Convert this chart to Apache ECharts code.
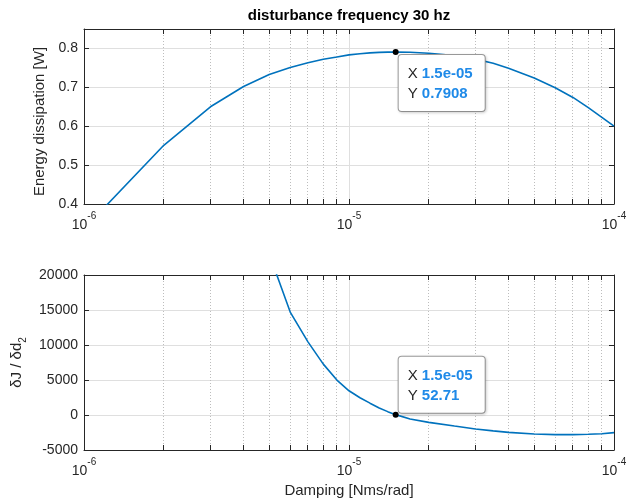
<!DOCTYPE html>
<html><head><meta charset="utf-8">
<script src="https://cdn.jsdelivr.net/npm/echarts@6/dist/echarts.min.js"></script>
<style>html,body{margin:0;padding:0;background:#fff}#c{width:632px;height:504px}</style>
</head><body><div id="c"></div>
<script>
// ---- data ----
const damping = [1e-6,2e-6,3e-6,4e-6,5e-6,6e-6,7e-6,8e-6,9e-6,1e-5,1.1e-5,1.2e-5,1.3e-5,1.4e-5,1.5e-5,1.7e-5,2e-5,2.5e-5,3e-5,3.5e-5,4e-5,5e-5,6e-5,7e-5,8e-5,9e-5,1e-4];
const energy  = [0.336,0.551,0.650,0.702,0.733,0.751,0.763,0.772,0.778,0.7835,0.7865,0.7885,0.7898,0.7905,0.7908,0.7901,0.7877,0.7815,0.7725,0.762,0.749,0.724,0.699,0.674,0.648,0.623,0.600];
const dJdd    = [null,null,null,null,23000,14700,10450,7270,4990,3460,2470,1690,1010,480,52.71,-560,-1050,-1580,-2000,-2270,-2480,-2710,-2810,-2810,-2760,-2670,-2520];
const tipX = 1.5e-5;

// ---- axes / ticks ----
const xDecades = [1e-6, 1e-5, 1e-4];
const energyTicks = [0.4, 0.5, 0.6, 0.7, 0.8];
const energyLimits = [0.4, 0.85];
const dJTicks = [-5000, 0, 5000, 10000, 15000, 20000];

const titleText = 'disturbance frequency 30 hz';
const yNameTop = 'Energy dissipation [W]';
const xNameBottom = 'Damping [Nms/rad]';

const FONT = '"Liberation Sans", Arial, Helvetica, sans-serif';
const AX = '#262626';
const GRID = '#dfdfdf';
const MINOR = '#bdbdbd';
const LINE = '#0072BD';
const TIPBLUE = '#1f8ae8';

const minorX = [];
for (let i = 0; i < xDecades.length - 1; i++) for (let k = 2; k <= 9; k++) minorX.push(k * xDecades[i]);

const tipIdx = damping.indexOf(tipX);
function fmtX(v){ return v.toExponential(1).replace(/e([+-])(\d)$/, 'e$10$2'); }
function fmtY(v){ return String(Number(v.toPrecision(4))); }

const grids = [
  {left: 84, top: 29, width: 530, height: 175},
  {left: 84, top: 275, width: 530, height: 175}
];

function xAxesFor(g, name){
  const base = {
    type: 'log', logBase: 10, gridIndex: g,
    min: xDecades[0], max: xDecades[xDecades.length-1], splitNumber: xDecades.length-1,
    axisLine: {show: true, onZero: false, lineStyle: {color: AX, width: 1}},
    axisTick: {show: true, inside: true, length: 5, lineStyle: {color: AX, width: 1}},
    minorTick: {show: false}, minorSplitLine: {show: false}
  };
  return [
    Object.assign({}, base, {
      position: 'bottom',
      axisLabel: {show: true, margin: 7,
        formatter: v => '{b|10}{s|' + Math.round(Math.log10(v)) + '}',
        rich: {
          b: {fontSize: 14, fontFamily: FONT, color: AX, lineHeight: 21, verticalAlign: 'bottom'},
          s: {fontSize: 10, fontFamily: FONT, color: AX, lineHeight: 21, verticalAlign: 'top'}
        }},
      splitLine: {show: true, lineStyle: {color: GRID, width: 1}},
      name: name || '', nameLocation: 'middle', nameGap: 33,
      nameTextStyle: {fontSize: 15, color: AX, fontFamily: FONT}
    }),
    Object.assign({}, base, {position: 'top', axisLabel: {show: false}, splitLine: {show: false}})
  ];
}

function yAxesFor(g, lim, ticks, fmt, name, nameGap, nameStyle){
  const base = {
    type: 'value', gridIndex: g, min: lim[0], max: lim[1], interval: ticks[1] - ticks[0],
    axisLine: {show: true, onZero: false, lineStyle: {color: AX, width: 1}},
    axisTick: {show: true, inside: true, length: 5, lineStyle: {color: AX, width: 1}}
  };
  return [
    Object.assign({}, base, {
      position: 'left',
      axisLabel: {show: true, margin: 6, fontSize: 14, color: AX, fontFamily: FONT,
        formatter: v => ticks.some(t => Math.abs(t - v) < 1e-9 * Math.max(1, Math.abs(t))) ? fmt(v) : ''},
      splitLine: {show: true, lineStyle: {color: GRID, width: 1}},
      name: name, nameLocation: 'middle', nameGap: nameGap,
      nameTextStyle: nameStyle
    }),
    Object.assign({}, base, {position: 'right', axisLabel: {show: false}, splitLine: {show: false}})
  ];
}

function minorRender(params, api){
  const cs = params.coordSys;
  let x = api.coord([api.value(0), api.value(1)])[0];
  x = Math.round(x - 0.5) + 0.5;
  const top = cs.y, bot = cs.y + cs.height;
  return {type: 'group', children: [
    {type: 'line', shape: {x1: x, y1: top, x2: x, y2: bot}, style: {stroke: MINOR, lineWidth: 1, lineDash: [1, 2]}},
    {type: 'line', shape: {x1: x, y1: bot, x2: x, y2: bot - 5}, style: {stroke: AX, lineWidth: 1}},
    {type: 'line', shape: {x1: x, y1: top, x2: x, y2: top + 5}, style: {stroke: AX, lineWidth: 1}}
  ]};
}

function tipLabel(pos, vAlign){
  return {
    show: true, position: pos, align: 'left', verticalAlign: vAlign, opacity: 1,
    formatter: p => '{l|X }{v|' + fmtX(p.value[0]) + '}\n{l|Y }{v|' + fmtY(p.value[1]) + '}',
    backgroundColor: '#ffffff', borderColor: '#9c9c9c', borderWidth: 1, borderRadius: 3,
    padding: [9, 12, 7, 9],
    shadowColor: 'rgba(0,0,0,0.15)', shadowBlur: 3, shadowOffsetX: 1, shadowOffsetY: 1,
    rich: {
      l: {fontSize: 15, fontFamily: FONT, color: AX, lineHeight: 20},
      v: {fontSize: 15, fontFamily: FONT, color: TIPBLUE, fontWeight: 'bold', lineHeight: 20}
    }
  };
}

const option = {
  animation: false,
  backgroundColor: '#ffffff',
  title: {text: titleText, left: 349, top: 8, textAlign: 'center', padding: 0,
    textStyle: {fontSize: 15, fontWeight: 'bold', color: '#000', fontFamily: FONT}},
  grid: grids,
  xAxis: [].concat(xAxesFor(0, ''), xAxesFor(1, xNameBottom)),
  yAxis: [].concat(
    yAxesFor(0, energyLimits, energyTicks, v => v.toFixed(1), yNameTop, 24,
      {fontSize: 15, color: AX, fontFamily: FONT, padding: [0, 10, 0, 0]}),
    yAxesFor(1, [dJTicks[0], dJTicks[dJTicks.length-1]], dJTicks, v => String(Math.round(v)),
      '{a|δJ / δd}{sub|2}', 50,
      {fontSize: 15, color: AX, fontFamily: FONT, rich: {
        a: {fontSize: 15, color: AX, fontFamily: FONT, lineHeight: 19, verticalAlign: 'top'},
        sub: {fontSize: 10, color: AX, fontFamily: FONT, lineHeight: 19, verticalAlign: 'bottom'}
      }})
  ),
  series: [
    {type: 'custom', xAxisIndex: 0, yAxisIndex: 0, z: 1, silent: true, renderItem: minorRender,
      data: minorX.map(v => [v, energyLimits[0]])},
    {type: 'line', xAxisIndex: 0, yAxisIndex: 0, z: 3, showSymbol: false, silent: true,
      lineStyle: {color: LINE, width: 1.6},
      data: damping.map((x, i) => [x, energy[i]])},
    {type: 'scatter', xAxisIndex: 0, yAxisIndex: 0, z: 6, silent: true, symbolSize: 6,
      itemStyle: {color: '#000', opacity: 1},
      label: tipLabel([6, 6], 'top'),
      data: [[damping[tipIdx], energy[tipIdx]]]},

    {type: 'custom', xAxisIndex: 2, yAxisIndex: 2, z: 1, silent: true, renderItem: minorRender,
      data: minorX.map(v => [v, dJTicks[0]])},
    {type: 'line', xAxisIndex: 2, yAxisIndex: 2, z: 3, showSymbol: false, silent: true,
      lineStyle: {color: LINE, width: 1.6},
      data: damping.map((x, i) => [x, dJdd[i]])},
    {type: 'scatter', xAxisIndex: 2, yAxisIndex: 2, z: 6, silent: true, symbolSize: 6,
      itemStyle: {color: '#000', opacity: 1},
      label: tipLabel([6, 1], 'bottom'),
      data: [[damping[tipIdx], dJdd[tipIdx]]]}
  ]
};

const chart = echarts.init(document.getElementById('c'), null, {renderer: 'canvas'});
chart.setOption(option);
</script></body></html>
